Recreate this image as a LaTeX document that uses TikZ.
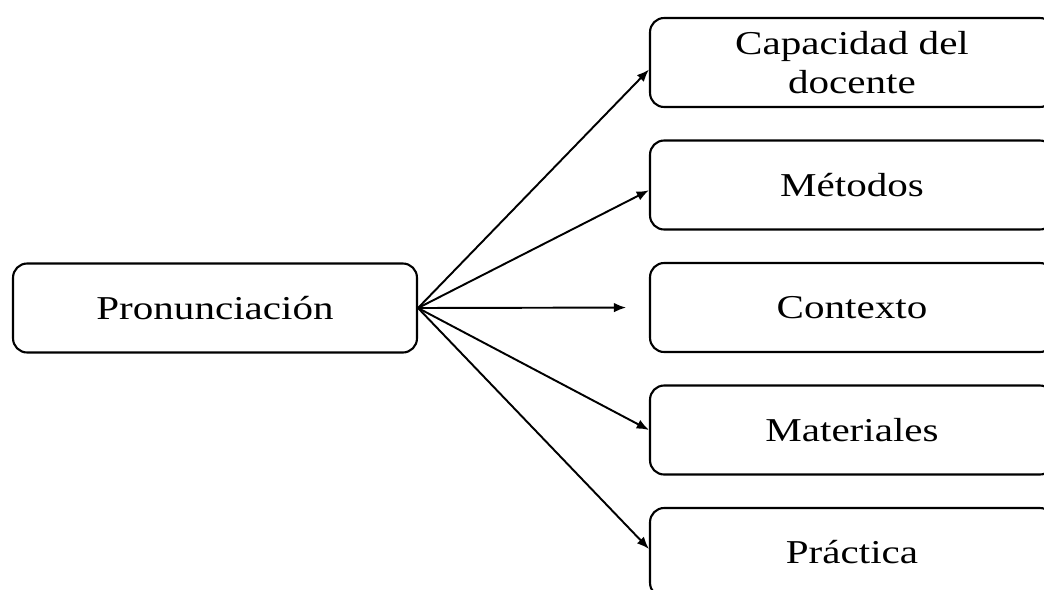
\documentclass[tikz,border=0pt]{standalone}
\usepackage{fontspec}
\setmainfont{Liberation Serif}[FakeStretch=1.23]
\usetikzlibrary{arrows.meta}

\tikzset{
	caja/.style={draw, line width=1.2pt, rounded corners=8pt,
		minimum width=8.08cm, minimum height=1.78cm, align=center,
		font=\fontsize{19}{22}\selectfont},
	flecha/.style={line width=1.1pt, -{Latex[length=7pt,width=5.5pt]}}
}

\begin{document}
\begin{tikzpicture}[x=0.02cm, y=-0.02cm]
		\clip (0,0) rectangle (1044,589);

		% Izquierda
		\node[caja] (pron) at (215,308) {Pronunciación};

		% Columna derecha
		\node[caja] (cap) at (852,62.5) {Capacidad del\\docente};
		\node[caja] (met) at (852,185) {Métodos};
		\node[caja] (cont) at (852,307.5) {Contexto};
		\node[caja] (mat) at (852,430) {Materiales};
		\node[caja] (prac) at (852,552.5) {Práctica};

		% Flechas
		\draw[flecha] (pron.east) -- ([yshift=-4pt]cap.west);
		\draw[flecha] (pron.east) -- ([yshift=-3pt]met.west);
		\draw[flecha, shorten >=13pt] (pron.east) -- (cont.west);
		\draw[flecha] (pron.east) -- (mat.west);
		\draw[flecha] (pron.east) -- ([yshift=2pt]prac.west);
	\end{tikzpicture}
\end{document}
